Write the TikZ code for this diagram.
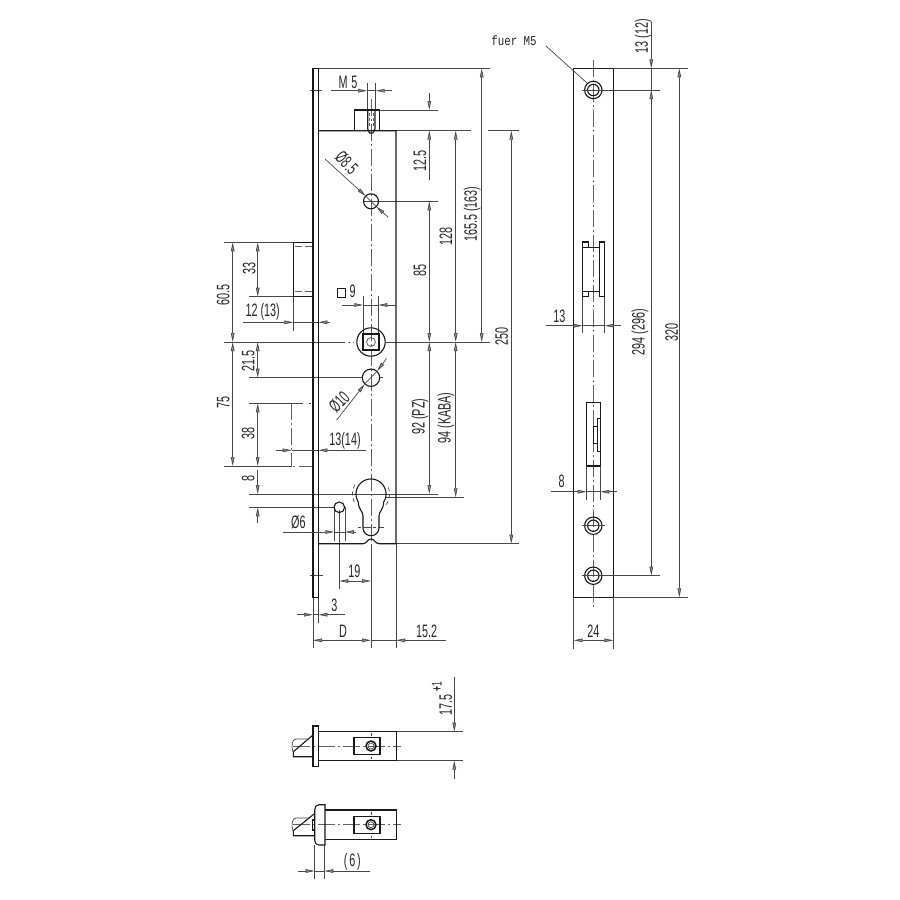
\documentclass[tikz,border=0pt]{standalone}
\usepackage{fontspec}
\setmainfont{Liberation Sans}
\newfontfamily\monof{Liberation Mono}
\usetikzlibrary{arrows.meta}
\newcommand\dt[1]{\scalebox{0.6}[1]{#1}}
\tikzset{
  x=1pt,y=-1pt,
  dtip/.tip={Triangle[length=9pt,width=3.6pt,fill=black!45]},
  thk/.style={line width=1.1pt,black!90},
  thn/.style={line width=0.7pt,black!72},
  ctr/.style={line width=0.7pt,black!62,dash pattern=on 17pt off 3pt on 2pt off 3pt},
  hid/.style={line width=0.7pt,black!62,dash pattern=on 7pt off 3pt},
  lbl/.style={font=\fontsize{18}{18}\selectfont,inner sep=0pt,text=black!85},
  vlbl/.style={lbl,rotate=90},
  dar/.style={thn,-dtip},
  dbl/.style={thn,dtip-dtip},
}
\begin{document}
\begin{tikzpicture}
\useasboundingbox (0,0) rectangle (900,900);
\fill[white] (0,0) rectangle (900,900);

%% ---------- side view: centre lines
\draw[ctr] (371,99) -- (371,546);
\draw[thn] (371,546) -- (371,648);
\draw[ctr] (291.7,403.3) -- (291.7,466);

%% ---------- extension lines
\draw[thn] (318.3,68.3) -- (490,68.3);
\draw[thn] (379.3,110) -- (438,110);
\draw[thn] (396,130.7) -- (471,130.7);
\draw[thn] (488,130.7) -- (519.3,130.7);
\draw[thn] (379,201.3) -- (438,201.3);
\draw[thn] (224,242.3) -- (313,242.3);
\draw[thn] (249.3,296.7) -- (313,296.7);
\draw[thn] (224,342) -- (345,342);
\draw[ctr,dash pattern=on 2pt off 3pt] (348,342) -- (354,342);
\draw[thn] (385.7,342) -- (490,342);
\draw[thn] (249.3,377.7) -- (362,377.7);
\draw[thn] (249.3,403.3) -- (303,403.3);
\draw[thn] (308.5,403.3) -- (310.5,403.3);
\draw[thn] (224,466) -- (291.7,466);
\draw[ctr,dash pattern=on 2pt off 4pt on 15pt off 1pt] (293,466) -- (313,466);
\draw[thn] (249.3,494) -- (438,494);
\draw[thn] (386,497.3) -- (464,497.3);
\draw[thn] (249.3,507.3) -- (335,507.3);
\draw[thn] (396,543.7) -- (519.3,543.7);
\draw[thn] (310,90.7) -- (322,90.7);
\draw[thn] (310,575.7) -- (322.7,575.7);
\draw[thn] (318.3,597.3) -- (318.3,623);
\draw[thn] (313,597.3) -- (313,648);
\draw[thn] (396,543.7) -- (396,648);
\draw[thn] (367,82.7) -- (367,110);
\draw[thn] (375.7,82.7) -- (375.7,110);
\draw[thn] (363.3,296) -- (363.3,336);
\draw[thn] (378.3,296) -- (378.3,336);
\draw[thn] (293.3,296.7) -- (293.3,330.7);
\draw[thn] (334.3,507.3) -- (334.3,541);
\draw[thn] (345,507.3) -- (345,541);
\draw[thn] (339.3,510) -- (339.3,589.3);

%% ---------- plate, case
\draw[thk] (313,597.3) -- (313,68.3) -- (318.3,68.3) -- (318.3,597.3) -- cycle;
\draw[thk] (318.3,130.7) -- (396,130.7) -- (396,543.7) -- (379.3,543.7)
  .. controls (375,543.7) and (375,539) .. (371,539)
  .. controls (367,539) and (367,543.7) .. (363,543.7) -- (318.3,543.7);
\draw[thk] (354.3,130.7) -- (354.3,110) -- (379.3,110) -- (379.3,130.7);
\draw[thk] (367.7,110) -- (367.7,129) -- (369.5,133) -- (372.8,133) -- (375,129) -- (375,110);
\draw[hid,dash pattern=on 3pt off 2pt] (369.5,113) -- (369.5,128);
\draw[hid,dash pattern=on 3pt off 2pt] (373.3,113) -- (373.3,128);

%% latch
\draw[thk] (313,242.3) -- (293.3,242.3) -- (293.3,296.7) -- (313,296.7);
\draw[hid] (295,246.7) -- (313,246.7);
\draw[hid] (295,291.7) -- (313,291.7);

%% holes
\draw[thk] (371,201.3) circle (7.5);
\draw[thn] (364,201.3) -- (378,201.3);
\draw[thk] (371,342) circle (14.2);
\draw[thk] (363,334) rectangle (379,350);
\draw[thn] (371,342) circle (4.4);
\draw[thk] (371,377.7) circle (8.7);
\draw[thn] (380,377.7) -- (382.7,377.7);
\draw[thk] (339.3,507.3) circle (5.3);

%% euro cylinder
\draw[thk] plot[domain=-32.2:212.2,samples=50] ({371+15*cos(\x)},{494-15*sin(\x)})
  .. controls (358.5,510) and (363,511) .. (363,516) -- (363,527.7)
  -- plot[domain=180:360,samples=24] ({371+8*cos(\x)},{527.7-8*sin(\x)})
  -- (379,516) .. controls (379,511) and (383.5,510) .. (383.7,502);
\draw[thn,dash pattern=on 4pt off 3pt] plot[domain=150:215,samples=16] ({371+18.5*cos(\x)},{494-18.5*sin(\x)});
\draw[thn,dash pattern=on 4pt off 3pt] plot[domain=-35:30,samples=16] ({371+18.5*cos(\x)},{494-18.5*sin(\x)});
\draw[thn,dash pattern=on 3pt off 2pt on 8pt off 2pt] (358,527.3) -- (384,527.3);

%% ---------- dimensions, side view
\draw[dar] (331,90.7) -- (367,90.7);
\draw[dar] (392,90.7) -- (375.7,90.7);
\draw[thn] (367,90.7) -- (375.7,90.7);
\node[lbl] (tM) at (348,82) {\dt{M\,\,5}};

\draw[dar] (429.3,93.3) -- (429.3,110);
\draw[dar] (429.3,180) -- (429.3,130.7);
\node[vlbl] (t125) at (420,161) {\dt{12.5}};
\draw[dbl] (429.3,201.3) -- (429.3,342);
\node[vlbl] (t85) at (420,270.7) {\dt{85}};
\draw[dbl] (455.7,130.7) -- (455.7,342);
\node[vlbl] (t128) at (446,236) {\dt{128}};
\draw[dbl] (481.7,68.3) -- (481.7,342);
\node[vlbl] (t165) at (472.3,214) {\dt{165.5 (163)}};
\draw[dbl] (511.3,130.7) -- (511.3,543.7);
\node[vlbl] (t250) at (501.7,336.7) {\dt{250}};

\draw[dar] (325,159) -- (365.7,196);
\draw[dar] (388.3,217.3) -- (376.3,206.6);
\draw[thn] (365.7,196) -- (376.3,206.6);
\node[lbl,rotate=-45] (t85d) at (346.7,162.7) {\dt{Ø8.5}};

\draw[dbl] (232.7,242.3) -- (232.7,342);
\node[vlbl] (t605) at (223.3,295) {\dt{60.5}};
\draw[dbl] (257.7,242.3) -- (257.7,296.7);
\node[vlbl] (t33) at (249.3,268) {\dt{33}};
\draw[dar] (243.3,322.3) -- (293.3,322.3);
\draw[dar] (330,322.3) -- (318.3,322.3);
\draw[thn] (293.3,322.3) -- (318.3,322.3);
\node[lbl] (t12) at (262.7,312.3) {\dt{12 (13)}};

\draw[thk] (337.3,288.7) rectangle (345.7,297.7);
\node[lbl] (t9) at (352.7,291.7) {\dt{9}};
\draw[dar] (342.3,305) -- (363.3,305);
\draw[dar] (396,305) -- (378.3,305);
\draw[thn] (363.3,305) -- (378.3,305);

\draw[dar] (336.7,420) -- (364.8,384);
\draw[dar] (386.7,358.3) -- (377.2,371);
\draw[thn] (364.8,384) -- (377.2,371);
\node[lbl,rotate=45] (t10d) at (339.3,401.7) {\dt{Ø10}};

\draw[dbl] (257.7,342) -- (257.7,377.7);
\node[vlbl] (t215) at (248.3,360.7) {\dt{21.5}};
\draw[dbl] (232.7,342) -- (232.7,466);
\node[vlbl] (t75) at (223.3,402.7) {\dt{75}};
\draw[dbl] (257.7,403.3) -- (257.7,466);
\node[vlbl] (t38) at (248.3,433.3) {\dt{38}};
\draw[dar] (275.7,450.3) -- (291.7,450.3);
\draw[dar] (365.7,450.3) -- (318.3,450.3);
\draw[thn] (291.7,450.3) -- (318.3,450.3);
\node[lbl] (t13) at (345,440.7) {\dt{13(14)}};
\draw[dar] (257.7,470) -- (257.7,494);
\draw[dar] (257.7,523.3) -- (257.7,507.3);
\node[vlbl] (t8) at (248.3,478) {\dt{8}};
\draw[dbl] (429.3,342) -- (429.3,494);
\node[vlbl] (t92) at (420,416.7) {\dt{92 (PZ)}};
\draw[dbl] (455.7,342) -- (455.7,497.3);
\node[vlbl] (t94) at (446,418) {\dt{94 (KABA)}};
\draw[dar] (283.3,532) -- (334.3,532);
\draw[dar] (355.7,532) -- (345,532);
\draw[thn] (334.3,532) -- (345,532);
\node[lbl] (t6d) at (298.3,522.7) {\dt{Ø6}};
\draw[dbl] (339.3,581) -- (371,581);
\node[lbl] (t19) at (354.3,571.7) {\dt{19}};
\draw[dar] (296.7,614.7) -- (313,614.7);
\draw[dar] (344.7,614.7) -- (318.3,614.7);
\draw[thn] (313,614.7) -- (318.3,614.7);
\node[lbl] (t3) at (334.3,605) {\dt{3}};
\draw[dbl] (313,640.3) -- (371,640.3);
\node[lbl] (tD) at (343,631) {\dt{D}};
\draw[thn] (371,640.3) -- (396,640.3);
\draw[dar] (446,640.3) -- (396,640.3);
\node[lbl] (t152) at (426.7,631) {\dt{15.2}};

%% ---------- front view
\draw[ctr] (593.3,60) -- (593.3,606.7);
\draw[thk] (573.7,68.3) rectangle (613.3,597.3);
\draw[thn] (613.3,68.3) -- (687.7,68.3);
\draw[thn] (613.3,597.3) -- (687.7,597.3);
\draw[thn] (604,90) -- (660,90);
\draw[thn] (604,575.7) -- (660,575.7);
\foreach \yy/\nm in {90/a,525.7/b,575.7/c}{
  \draw[thk] (593.3,\yy) circle (8.7);
  \draw[thk] (593.3,\yy) circle (5.7);
  \draw[thn] (582,\yy) -- (604.5,\yy);
}
\fill[black!70] (593.3,90) circle (1);

\draw[thk] (582.5,242) -- (588.3,242) -- (588.3,247.3) -- (599.3,247.3) -- (599.3,291.7) -- (588.3,291.7) -- (588.3,296.7) -- (582.5,296.7) -- cycle;
\draw[thk] (582.5,247.3) -- (588.3,247.3);
\draw[thk] (582.5,291.7) -- (588.3,291.7);
\draw[thk] (599.3,242) rectangle (604.5,296.7);
\draw[thn] (582.6,296.7) -- (582.6,333);
\draw[thn] (604.6,296.7) -- (604.6,333);
\draw[dar] (545.7,325.7) -- (582.6,325.7);
\draw[dar] (620.7,325.7) -- (604.6,325.7);
\draw[thn] (582.6,325.7) -- (604.6,325.7);
\node[lbl] (t13f) at (559.3,316) {\dt{13}};

\draw[thk] (586.7,402.7) rectangle (600.3,466);
\draw[thk] (597.7,418.3) rectangle (600.3,451.7);
\draw[thk] (593.5,426.7) rectangle (597.5,443.3);
\draw[thn] (586.7,466) -- (586.7,500);
\draw[thn] (600.3,466) -- (600.3,500);
\draw[dar] (550.7,491.7) -- (586.7,491.7);
\draw[dar] (616.7,491.7) -- (600.3,491.7);
\draw[thn] (586.7,491.7) -- (600.3,491.7);
\node[lbl] (t8f) at (561.7,481.7) {\dt{8}};

\draw[thn] (573.7,597.3) -- (573.7,649.3);
\draw[thn] (613.3,597.3) -- (613.3,649.3);
\draw[dbl] (573.7,640.3) -- (613.3,640.3);
\node[lbl] (t24) at (593.3,631) {\dt{24}};

\draw[dar] (651.3,22) -- (651.3,68.3);
\draw[dbl] (651.3,90) -- (651.3,575.7);
\draw[thn] (651.3,68.3) -- (651.3,90);
\node[vlbl] (t1312) at (643.3,36) {\dt{13 (12)}};
\node[vlbl] (t294) at (640,332) {\dt{294 (296)}};
\draw[dbl] (679.3,68.3) -- (679.3,597.3);
\node[vlbl] (t320) at (671.7,332) {\dt{320}};

\draw[thn] (546,46) -- (587,83);
\node[lbl,font=\monof\fontsize{13.5}{13.5}\selectfont] (tfuer) at (514,41) {\scalebox{0.8}[1]{fuer M5}};

%% ---------- bolt, upper
\draw[ctr] (293.3,746) -- (400.7,746);
\draw[thk] (318.3,731.7) rectangle (396.7,760.7);
\draw[thk] (313,726) rectangle (318.3,766.7);
\draw[thk] (313,735) -- (293.3,751.7) -- (293.3,756.7) -- (313,756.7);
\draw[thn] (309,739) -- (296,739) .. controls (292,739) and (291,746) .. (293,752);
\draw[thk] (354,737.7) rectangle (380,754.7);
\draw[thk,line width=1.5pt] (371,746) circle (5);
\draw[thn] (371,746) circle (3);
\draw[thn] (371,733) -- (371,736);
\draw[thn] (371,757) -- (371,759);
\draw[thn] (396.7,731.7) -- (462.7,731.7);
\draw[thn] (396.7,760.7) -- (462.7,760.7);
\draw[dar] (454.3,676.7) -- (454.3,731.7);
\draw[dar] (454.3,779.3) -- (454.3,760.7);
\node[vlbl] (t175) at (445.7,705) {\dt{17.5}};
\node[vlbl,font=\fontsize{14}{14}\selectfont] (tp1) at (436.7,686.7) {\dt{\textbf{+}1}};

%% ---------- bolt, lower
\draw[ctr] (293.3,824.7) -- (400.7,824.7);
\draw[thk] (325,810) -- (396.7,810) -- (396.7,839.3) -- (325,839.3);
\draw[thk] (325,804.7) -- (319,804.7) .. controls (316,804.7) and (314.7,807) .. (314.7,810)
  -- (314.7,840) .. controls (314.7,843) and (316,845) .. (319,845) -- (325,845) -- cycle;
\draw[thk] (314,814) -- (293.3,830.7) -- (293.3,835.7) -- (314.7,835.7);
\draw[thn] (309,818) -- (296,818) .. controls (292,818) and (291,825) .. (293,831);
\draw[thk] (312.7,820) rectangle (314.7,830);
\draw[thk] (354,816.3) rectangle (380,833.3);
\draw[thk,line width=1.5pt] (371,824.7) circle (5);
\draw[thn] (371,824.7) circle (3);
\draw[thn] (371,812) -- (371,815);
\draw[thn] (371,836) -- (371,838);
\draw[thn] (314.7,845) -- (314.7,879.3);
\draw[thn] (324.3,845) -- (324.3,879.3);
\draw[dar] (298.3,871) -- (314.7,871);
\draw[dar] (370,871) -- (324.3,871);
\draw[thn] (314.7,871) -- (324.3,871);
\node[lbl] (t6p) at (352.3,862) {\dt{(\,6\,)}};
\end{tikzpicture}
\end{document}
